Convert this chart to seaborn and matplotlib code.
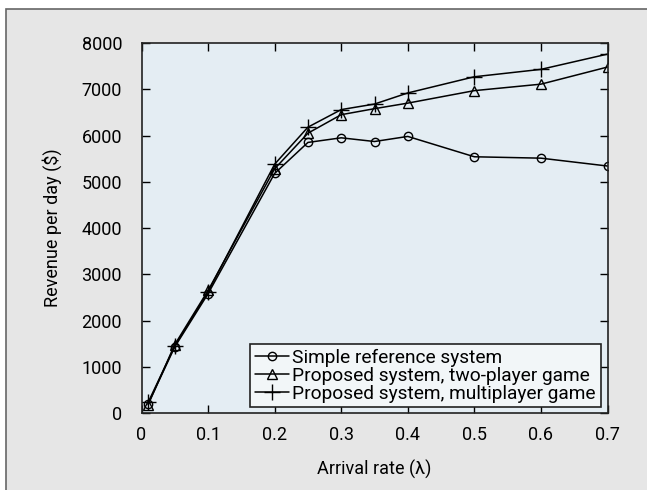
import matplotlib
matplotlib.use("Agg")
import matplotlib.pyplot as plt
import matplotlib.patches as mpatches
import numpy as np
import seaborn as sns

arrival_rate = [0.01, 0.05, 0.1, 0.2, 0.25, 0.3, 0.35, 0.4, 0.5, 0.6, 0.7]
simple_ref = [200, 1430, 2580, 5180, 5850, 5950, 5870, 5980, 5540, 5510, 5340]
two_player = [180, 1480, 2650, 5280, 6050, 6450, 6580, 6700, 6970, 7110, 7480]
multiplayer = [230, 1450, 2620, 5380, 6180, 6560, 6680, 6920, 7270, 7430, 7760]

series_names = ["Simple reference system",
                "Proposed system, two-player game",
                "Proposed system, multiplayer game"]
x_ticks = [0, 0.1, 0.2, 0.3, 0.4, 0.5, 0.6, 0.7]
x_tick_labels = ["0", "0.1", "0.2", "0.3", "0.4", "0.5", "0.6", "0.7"]
y_ticks = [0, 1000, 2000, 3000, 4000, 5000, 6000, 7000, 8000]

sns.set_style("ticks")
plt.rcParams['font.family'] = ['Roboto', 'DejaVu Sans']
plt.rcParams['text.color'] = 'black'
plt.rcParams['axes.labelcolor'] = 'black'

W, H = 647, 490
fig = plt.figure(figsize=(W / 100, H / 100), dpi=100)
fig.patch.set_facecolor("white")

# grey panel behind everything (runs off the right and bottom edges)
panel = mpatches.Rectangle((6 / W, -0.1), 1.0, 1.1 - 9 / H, transform=fig.transFigure,
                           facecolor="#e6e6e6", edgecolor="#666666", linewidth=1.2,
                           zorder=-5)
fig.add_artist(panel)

ax = fig.add_axes([141.5 / W, 1 - 413 / H, (607.5 - 141.5) / W, (413 - 43) / H])
ax.set_facecolor("#e4edf3")

markers = ["o", "^", "+"]
msizes = [6, 7.5, 11]
for vals, name, m, ms in zip([simple_ref, two_player, multiplayer], series_names, markers, msizes):
    sns.lineplot(x=arrival_rate, y=vals, ax=ax, color="black", linewidth=1.1,
                 marker=m, markersize=ms, markerfacecolor="none",
                 markeredgecolor="black", markeredgewidth=1.0, label=name)

ax.set_xlim(0, 0.7)
ax.set_ylim(0, 8000)
ax.set_xticks(x_ticks)
ax.set_xticklabels(x_tick_labels)
ax.set_yticks(y_ticks)
ax.tick_params(direction="in", top=True, right=True, length=6, width=1,
               labelsize=13, colors="black")
ax.tick_params(axis="x", pad=9)
ax.tick_params(axis="y", pad=14)
for s in ax.spines.values():
    s.set_linewidth(1.2)
    s.set_color("#222222")

ax.set_xlabel("Arrival rate (λ)", fontsize=13, labelpad=12)
ax.set_ylabel("Revenue per day ($)", fontsize=13, labelpad=14)

leg = ax.legend(loc="lower right", bbox_to_anchor=(0.985, 0.015), fontsize=13.8,
                frameon=True, fancybox=False, handlelength=1.8, handletextpad=0.15,
                borderpad=0.25, labelspacing=0.0, borderaxespad=0)
leg.get_frame().set_edgecolor("#222222")
leg.get_frame().set_linewidth(1.2)
leg.get_frame().set_facecolor("#f2f6f8")
leg.get_frame().set_alpha(1)

fig.savefig("out.png", dpi=100, facecolor=fig.get_facecolor())
